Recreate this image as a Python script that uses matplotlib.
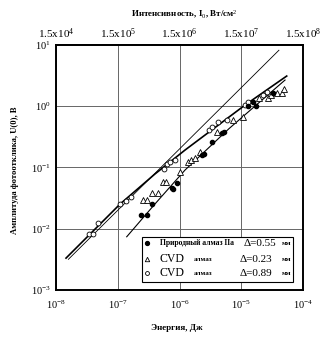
import numpy as np
import matplotlib.pyplot as plt
from matplotlib.patches import Rectangle

plt.rcParams['font.family'] = ['Liberation Serif', 'DejaVu Serif']
plt.rcParams['mathtext.fontset'] = 'custom'
plt.rcParams['mathtext.rm'] = 'Liberation Serif'
plt.rcParams['mathtext.it'] = 'Liberation Serif:italic'
plt.rcParams['mathtext.bf'] = 'Liberation Serif:bold'

# measured points, log10 of energy (J) and signal amplitude (V)
circ_logE = [-7.461, -7.406, -7.315, -6.964, -6.871, -6.790, -6.251, -6.207, -6.154, -6.073,
             -5.522, -5.479, -5.372, -5.236, -4.939, -4.886, -4.643, -4.588]
circ_logU = [-2.093, -2.093, -1.914, -1.604, -1.550, -1.489, -1.033, -0.946, -0.909, -0.881,
             -0.392, -0.347, -0.256, -0.228, 0.016, 0.070, 0.179, 0.233]

dot_logE = [-6.628, -6.531, -6.440, -6.126, -6.100, -6.045, -5.640, -5.598, -5.479, -5.317,
            -5.274, -4.896, -4.805, -4.766, -4.481]
dot_logU = [-1.778, -1.778, -1.604, -1.333, -1.359, -1.261, -0.799, -0.783, -0.582, -0.436,
            -0.419, 0.0, 0.070, 0.0, 0.207]

tri_logE = [-6.596, -6.531, -6.440, -6.353, -6.262, -6.219, -5.992, -5.858, -5.814, -5.749,
            -5.668, -5.398, -5.129, -4.967, -4.713, -4.562, -4.518, -4.426, -4.345, -4.308]
tri_logU = [-1.533, -1.533, -1.414, -1.414, -1.235, -1.235, -1.072, -0.909, -0.881, -0.853,
            -0.746, -0.419, -0.228, -0.175, 0.126, 0.126, 0.179, 0.207, 0.217, 0.272]

# fitted curves
fit_circ_logE = [-7.838, -6.964, -6.4, -5.911, -4.939, -4.264]
fit_circ_logU = [-2.48, -1.60, -1.11, -0.718, 0.016, 0.489]
fit_dot_logE = [-6.855, -6.4, -5.911, -5.2, -4.291]
fit_dot_logU = [-2.132, -1.60, -1.044, -0.37, 0.424]
lin_logE = [-7.8, -4.39]
lin_logU = [-2.50, 0.91]

x_exp = [-8, -7, -6, -5, -4]
y_exp = [-3, -2, -1, 0, 1]
top_exp = [4, 5, 6, 7, 8]


def p10(v):
    return np.power(10.0, v)


fig = plt.figure(figsize=(3.35, 3.45), dpi=100)
ax = fig.add_axes([0.1672, 0.1594, 0.7373, 0.711])
ax.set_xscale('log')
ax.set_yscale('log')
ax.set_xlim(1e-8, 1e-4)
ax.set_ylim(1e-3, 1e1)

ax.plot(p10(lin_logE), p10(lin_logU), color='black', lw=0.6)
ax.plot(p10(fit_circ_logE), p10(fit_circ_logU), color='black', lw=1.2)
ax.plot(p10(fit_dot_logE), p10(fit_dot_logU), color='black', lw=0.8)

ax.plot(p10(circ_logE), p10(circ_logU), 'o', ms=3.5, mfc='white', mec='black', mew=0.6)
ax.plot(p10(tri_logE), p10(tri_logU), '^', ms=4, mfc='white', mec='black', mew=0.6)
ax.plot(p10(dot_logE), p10(dot_logU), 'o', ms=3, color='black')

ax.set_xticks(p10(x_exp), labels=[r'$10^{%d}$' % e for e in x_exp])
ax.set_yticks(p10(y_exp), labels=[r'$10^{%d}$' % e for e in y_exp])
ax.minorticks_off()
ax.tick_params(length=0, labelsize=7.5)
ax.tick_params(axis='x', pad=6)
ax.tick_params(axis='y', pad=4)
ax.grid(True, which='major', color='#666666', lw=0.7)
for s in ax.spines.values():
    s.set_linewidth(1.4)

secax = ax.secondary_xaxis('top', functions=(lambda e: e * 1.5e12, lambda i: i / 1.5e12))
secax.set_xticks([1.5 * 10.0 ** e for e in top_exp],
                 labels=[r'1.5x10$^{%d}$' % e for e in top_exp])
secax.minorticks_off()
secax.tick_params(length=0, labelsize=8, pad=3)
secax.spines['top'].set_linewidth(1.4)

fig.text(184 / 335, 1 - 15 / 345, r'Интенсивность, I$_0$, Вт/см$^2$',
         ha='center', va='center', fontsize=6.5, fontweight='bold')
fig.text(177 / 335, 1 - 328 / 345, 'Энергия, Дж',
         ha='center', va='center', fontsize=6.5, fontweight='bold')
fig.text(15 / 335, 1 - 170 / 345, 'Амплитуда фотоотклика, U(0), В',
         ha='center', va='center', rotation=90, fontsize=6.2, fontweight='bold')

# legend box
ax.add_patch(Rectangle((0.348, 0.031), 0.612, 0.184, transform=ax.transAxes,
                       fc='white', ec='black', lw=0.8, zorder=5))
rows = [0.191, 0.126, 0.068]
ax.plot(0.367, rows[0], 'o', ms=2.8, color='black', transform=ax.transAxes, zorder=6)
ax.plot(0.367, rows[1], '^', ms=3.2, mfc='white', mec='black', mew=0.6,
        transform=ax.transAxes, zorder=6)
ax.plot(0.367, rows[2], 'o', ms=2.8, mfc='white', mec='black', mew=0.6,
        transform=ax.transAxes, zorder=6)

kw = dict(transform=ax.transAxes, va='center', zorder=7)
ax.text(0.421, rows[0], 'Природный алмаз IIa', fontsize=5.5, fontweight='bold', **kw)
ax.text(0.758, rows[0], 'Δ=0.55', fontsize=8, **kw)
ax.text(0.745, rows[1], 'Δ=0.23', fontsize=8, **kw)
ax.text(0.745, rows[2], 'Δ=0.89', fontsize=8, **kw)
for r in rows[1:]:
    ax.text(0.421, r, 'CVD', fontsize=8.5, **kw)
    ax.text(0.556, r, 'алмаз', fontsize=5, fontweight='bold', **kw)
for r in rows:
    ax.text(0.914, r, 'мм', fontsize=5, fontweight='bold', **kw)

fig.savefig('out.png', dpi=100)
